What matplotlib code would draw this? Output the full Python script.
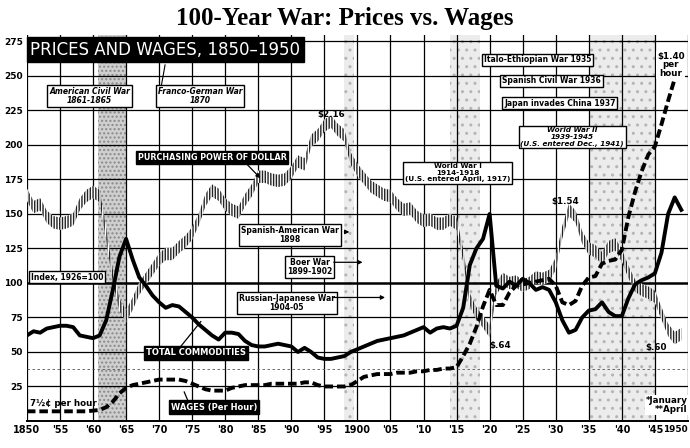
import matplotlib
matplotlib.use("Agg")
import matplotlib.pyplot as plt
import matplotlib.transforms as mtransforms

# ---- data (index, 1926 = 100) ----
years = list(range(1850, 1950))

commodities = [
    62, 65, 64, 67, 68, 69, 69, 68, 62, 61,      # 1850-59
    60, 62, 73, 95, 119, 132, 117, 104, 98, 91,  # 1860-69
    86, 82, 84, 83, 79, 75, 70, 66, 62, 59,      # 1870-79
    64, 64, 63, 58, 55, 54, 54, 55, 56, 55,      # 1880-89
    54, 50, 53, 50, 46, 45, 45, 46, 47, 50,      # 1890-99
    52, 54, 56, 58, 59, 60, 61, 62, 64, 66,      # 1900-09
    68, 64, 67, 68, 67, 69, 82, 113, 125, 132,   # 1910-19
    150, 98, 96, 101, 98, 103, 100, 95, 97, 95,  # 1920-29
    86, 73, 64, 66, 75, 80, 81, 86, 79, 76,      # 1930-39
    76, 89, 99, 102, 104, 107, 122, 150, 162, 153,  # 1940-49
]

wages = [
    7, 7, 7, 7, 7, 7, 7, 7, 7, 7,
    7.5, 8, 10, 14, 20, 24, 26, 27, 28, 29,
    30, 30, 30, 30, 29, 27, 25, 23, 22, 22,
    22, 24, 25, 26, 26, 26, 26, 27, 27, 27,
    27, 27, 28, 28, 26, 25, 25, 25, 25, 26,
    29, 32, 33, 34, 34, 34, 35, 35, 35, 36,
    36, 37, 37, 38, 38, 39, 47, 56, 68, 83,
    95, 84, 84, 93, 98, 99, 100, 101, 102, 103,
    98, 86, 84, 87, 98, 104, 105, 114, 116, 117,
    124, 148, 166, 181, 193, 199, 215, 232, 248, 260,
]

purchasing_power = [
    164, 155, 157, 148, 144, 143, 144, 146, 157, 163,
    166, 163, 135, 105, 84, 76, 85, 96, 103, 110,
    117, 121, 121, 126, 130, 136, 146, 160, 167, 164,
    157, 153, 151, 160, 167, 177, 177, 175, 174, 175,
    180, 188, 186, 203, 207, 214, 217, 211, 207, 190,
    182, 176, 170, 167, 164, 163, 157, 153, 154, 148,
    145, 146, 143, 143, 146, 143, 120, 88, 78, 72,
    65, 96, 103, 100, 101, 98, 100, 104, 103, 105,
    114, 137, 153, 148, 133, 125, 123, 118, 126, 128,
    120, 108, 98, 95, 93, 90, 78, 66, 60, 63,
]

x_ticks = list(range(1850, 1951, 5))
x_labels = ["1850", "'55", "'60", "'65", "'70", "'75", "'80", "'85", "'90", "'95",
            "1900", "'05", "'10", "'15", "'20", "'25", "'30", "'35", "'40", "'45", "1950"]
y_ticks = list(range(25, 276, 25))

# war periods shaded with stipple
war_dark = [(1860.7, 1865.2)]
war_light = [(1914.0, 1918.5), (1935.0, 1945.2), (1898.0, 1899.5)]

plt.rcParams["hatch.linewidth"] = 1.0

fig = plt.figure(figsize=(6.9, 4.48), dpi=100)
ax = fig.add_axes([0.039, 0.0603, 0.958, 0.8625])
ax.set_xlim(1850, 1950)
ax.set_ylim(0, 280)

for a, b in war_dark:
    ax.axvspan(a, b, facecolor="#cfcfcf", edgecolor="#8a8a8a", hatch="....", lw=0, zorder=0)
for a, b in war_light:
    ax.axvspan(a, b, facecolor="#ececec", edgecolor="#b5b5b5", hatch="..", lw=0, zorder=0)

# grid
for yv in y_ticks:
    ax.axhline(yv, color="black", lw=1.8 if yv == 100 else 0.9, zorder=1)
for xv in x_ticks:
    ax.axvline(xv, color="black", lw=0.9, zorder=1)
ax.axhline(38, color="#555555", lw=0.6, ls=(0, (3, 3)), zorder=1)

# purchasing power of dollar: vertically hatched band
pp_lo = [v - 4.5 for v in purchasing_power]
pp_hi = [v + 4.5 for v in purchasing_power]
ax.fill_between(years, pp_lo, pp_hi, facecolor="white", edgecolor="#222222",
                hatch="||||||", lw=0, zorder=2)

ax.plot(years, commodities, color="black", lw=2.8, solid_joinstyle="round", zorder=4)
ax.plot(years, wages, color="black", lw=2.8, ls=(0, (2.2, 1.0)), zorder=4)

# axes look
for s in ["top", "right", "left"]:
    ax.spines[s].set_visible(False)
ax.spines["bottom"].set_linewidth(1.4)
ax.set_xticks(x_ticks)
ax.set_xticklabels(x_labels[:-1] + [""], fontsize=7, fontweight="bold", family="DejaVu Sans")
# last year label sits against the right edge (cut in the original print)
xlab = mtransforms.blended_transform_factory(ax.transData, ax.transAxes)
ax.text(1950, -0.0105, x_labels[-1], transform=xlab, ha="right", va="top",
        fontsize=6.4, fontweight="bold", family="DejaVu Sans")
ax.set_yticks(y_ticks)
ax.set_yticklabels([str(v) for v in y_ticks], fontsize=6.5, fontweight="bold",
                   family="DejaVu Sans")
ax.tick_params(length=0, pad=3)

fig.text(0.5, 0.958, "100-Year War: Prices vs. Wages", ha="center", va="center",
         fontsize=18, fontweight="bold", family="Liberation Serif")

ax.text(1850.5, 269, "PRICES AND WAGES, 1850\u20131950", color="white", fontsize=12,
        family="DejaVu Sans", va="center", ha="left", zorder=6,
        bbox=dict(boxstyle="square,pad=0.2", fc="black", ec="black"))

white_box = dict(boxstyle="square,pad=0.25", fc="white", ec="black", lw=1)
black_box = dict(boxstyle="square,pad=0.25", fc="black", ec="black", lw=1)
fs = 5.5
arrow = dict(arrowstyle="-|>", color="black", lw=0.9, mutation_scale=6)

def note(x, y, s, style="normal", box=white_box, color="black", size=fs, ha="center"):
    ax.text(x, y, s, ha=ha, va="center", fontsize=size, fontweight="bold", fontstyle=style,
            family="DejaVu Sans", color=color, bbox=box, linespacing=1.05, zorder=7)

note(1859.5, 235.5, "American Civil War\n1861-1865", style="italic")
note(1876.2, 235.5, "Franco-German War\n1870", style="italic")
ax.plot([1870.3, 1870.9], [242, 258], color="black", lw=0.8, zorder=6)

note(1878.0, 191, "PURCHASING POWER OF DOLLAR", box=black_box, color="white", size=5.8)
ax.annotate("", xy=(1885.6, 174.5), xytext=(1883.0, 187.5), arrowprops=arrow, zorder=7)

note(1915.2, 180, "World War I\n1914-1918\n(U.S. entered April, 1917)", size=5.2)
note(1927.3, 261.6, "Italo-Ethiopian War 1935")
note(1929.4, 246.4, "Spanish Civil War 1936")
note(1930.6, 230.4, "Japan invades China 1937")
note(1932.5, 205.8, "World War II\n1939-1945\n(U.S. entered Dec., 1941)", style="italic", size=5.2)

note(1889.8, 134.8, "Spanish-American War\n1898")
ax.annotate("", xy=(1899.2, 137), xytext=(1897.6, 137), arrowprops=arrow, zorder=7)
note(1892.8, 111.6, "Boer War\n1899-1902")
ax.annotate("", xy=(1901.2, 115), xytext=(1896.0, 115), arrowprops=arrow, zorder=7)
note(1889.3, 85.5, "Russian-Japanese War\n1904-05")
ax.annotate("", xy=(1904.6, 89.5), xytext=(1896.0, 89.5), arrowprops=arrow, zorder=7)

note(1850.6, 104.3, "Index, 1926=100", ha="left")
note(1875.6, 49.3, "TOTAL COMMODITIES", box=black_box, color="white", size=6)
ax.plot([1873.1, 1876.3], [53, 72], color="black", lw=0.9, zorder=6)
note(1878.3, 10.1, "WAGES (Per Hour)", box=black_box, color="white", size=6)
ax.plot([1874.5, 1873.8], [13, 21], color="black", lw=0.9, zorder=6)

plain = dict(fontsize=6.3, fontweight="bold", family="DejaVu Sans", zorder=7)
ax.text(1896.0, 222, "$2.16", ha="center", va="center", **plain)
ax.text(1931.5, 158.7, "$1.54", ha="center", va="center", **plain)
ax.text(1921.6, 55, "$.64", ha="center", va="center", **plain)
ax.text(1945.2, 53, "$.60", ha="center", va="center", **plain)
ax.text(1947.4, 258, "$1.40\nper\nhour", ha="center", va="center", linespacing=0.95,
        bbox=dict(boxstyle="square,pad=0.1", fc="white", ec="none"), **plain)
ax.text(1850.4, 13, "7\u00bd\u00a2 per hour", ha="left", va="center", **plain)
ax.text(1950, 11.5, "*January\n**April", ha="right", va="center", linespacing=1.0,
        bbox=dict(boxstyle="square,pad=0.1", fc="white", ec="none"), **plain)

fig.savefig("out.png", dpi=100)
